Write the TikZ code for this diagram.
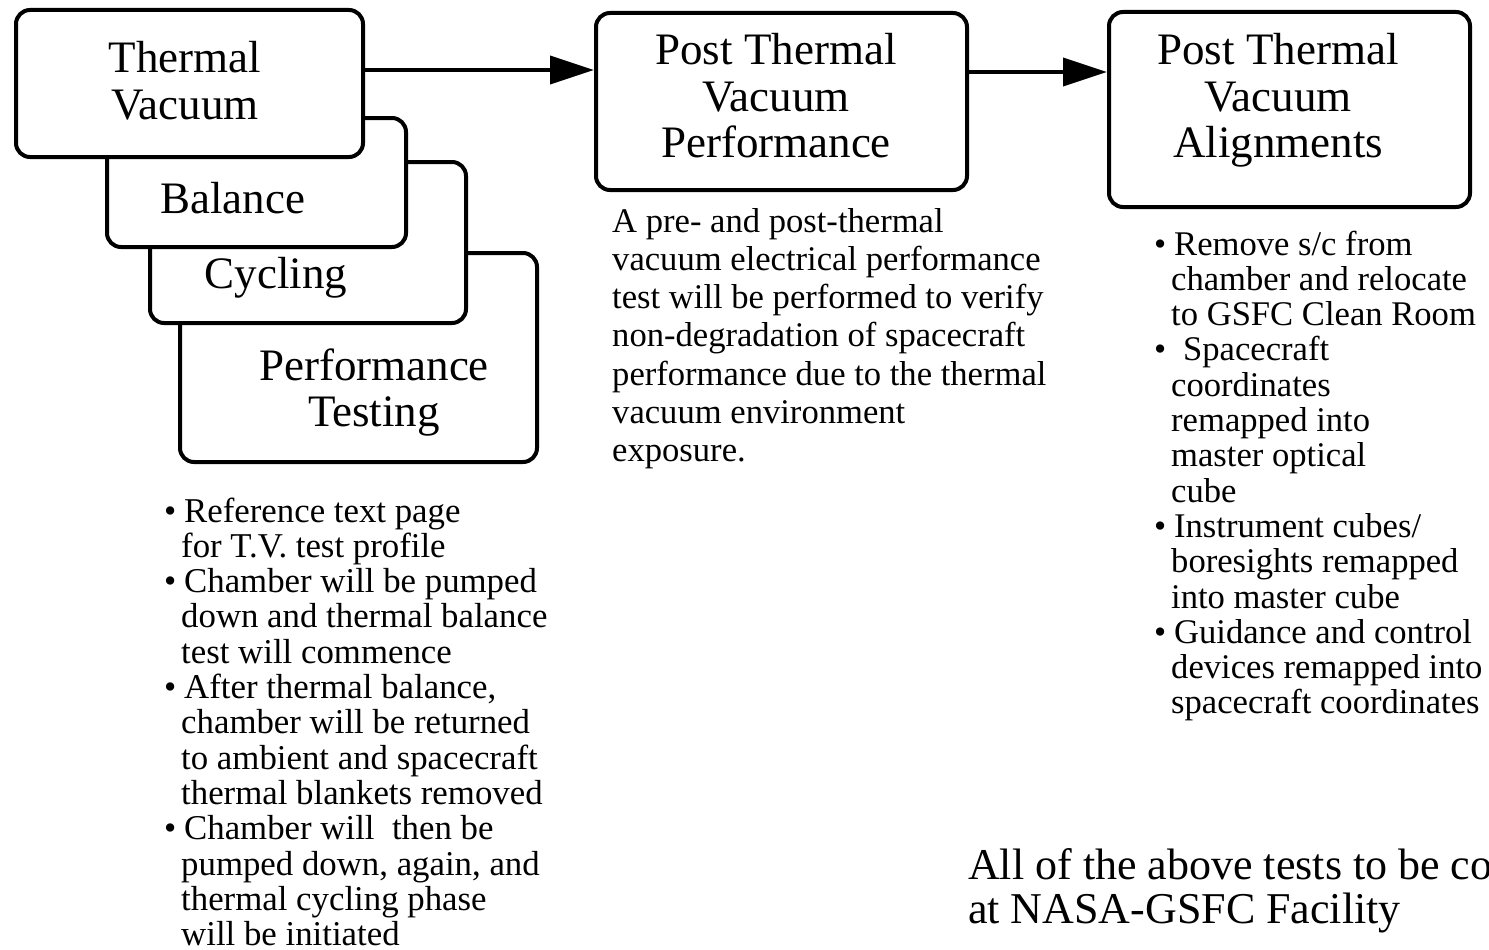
\documentclass[tikz,border=0pt]{standalone}
\usepackage{fontspec}
\setmainfont{Liberation Serif}
\usetikzlibrary{arrows.meta}
% bullet mark and continuation indent for the bullet lists
\newcommand\bulmark{\makebox[20pt][l]{•}}
\newcommand\contind{\hspace*{17pt}}
% centred box title, anchored at the baseline of its first line
\newcommand\boxtitle[1]{\parbox[t]{420pt}{\centering\fontsize{45}{46.5}\selectfont #1}}
% left-aligned text block, anchored at the baseline of its first line
\newcommand\textblock[3]{\parbox[t]{900pt}{\raggedright\fontsize{#1}{#2}\selectfont #3}}
\begin{document}
\begin{tikzpicture}[x=1pt,y=-1pt,
  box/.style={draw, line width=4pt, rounded corners=14pt, fill=white, inner sep=0pt},
  title/.style={anchor=base, inner sep=0pt},
  body/.style={anchor=base west, inner sep=0pt},
  conn/.style={line width=4pt, -{Triangle[length=44pt,width=28pt]}}]
\useasboundingbox (0,0) rectangle (1489,950);
\clip (0,0) rectangle (1489,950);
\fill[white] (0,0) rectangle (1489,950);

% stacked test phases, back to front
\node[box, minimum width=357pt, minimum height=209pt] (perf) at (358.5,357.5) {};
\node[box, minimum width=316pt, minimum height=161pt] (cyc) at (308,242.5) {};
\node[box, minimum width=299pt, minimum height=129pt] (bal) at (256.5,182.5) {};
\node[box, minimum width=347pt, minimum height=147pt] (tv) at (189.5,83.5) {};

\node[title] (perft) at (374,380) {\boxtitle{Performance\\Testing}};
\node[title] (cyct) at (276,288) {\boxtitle{Cycling}};
\node[title] (balt) at (232.5,213) {\boxtitle{Balance}};
\node[title] (tvt) at (185,73) {\boxtitle{Thermal\\Vacuum}};

% post-test boxes
\node[box, minimum width=371pt, minimum height=177pt] (ptp) at (781.5,101.5) {};
\node[title] (ptpt) at (776,65) {\boxtitle{Post Thermal\\Vacuum\\Performance}};
\node[box, minimum width=361pt, minimum height=195pt] (pta) at (1289.5,109.5) {};
\node[title] (ptat) at (1278,65) {\boxtitle{Post Thermal\\Vacuum\\Alignments}};

% flow arrows
\coordinate (row1) at (0,70);
\coordinate (row2) at (0,72);
\draw[conn] (tv.east |- row1) -- (ptp.west |- row1);
\draw[conn] (ptp.east |- row2) -- (pta.west |- row2);

% descriptions
\node[body] (tvnotes) at (164,522) {\textblock{34.8}{35.3}{%
\bulmark Reference text page\\
\contind for T.V. test profile\\
\bulmark Chamber will be pumped\\
\contind down and thermal balance\\
\contind test will commence\\
\bulmark After thermal balance,\\
\contind chamber will be returned\\
\contind to ambient and spacecraft\\
\contind thermal blankets removed\\
\bulmark Chamber will\ \ then be\\
\contind pumped down, again, and\\
\contind thermal cycling phase\\
\contind will be initiated}};

\node[body] (ptpnotes) at (612,232) {\textblock{34.6}{38.3}{%
A pre- and post-thermal\\
vacuum electrical performance\\
test will be performed to verify\\
non-degradation of spacecraft\\
performance due to the thermal\\
vacuum environment\\
exposure.}};

\node[body] (ptanotes) at (1154,255) {\textblock{34.6}{35.3}{%
\bulmark Remove s/c from\\
\contind chamber and relocate\\
\contind to GSFC Clean Room\\
\bulmark\hspace{9pt}Spacecraft\\
\contind coordinates\\
\contind remapped into\\
\contind master optical\\
\contind cube\\
\bulmark Instrument cubes/\\
\contind boresights remapped\\
\contind into master cube\\
\bulmark Guidance and control\\
\contind devices remapped into\\
\contind spacecraft coordinates}};

\node[body] (facility) at (968,879) {\textblock{44}{44}{%
All of the above tests to be conducted\\
at NASA-GSFC Facility}};
\end{tikzpicture}
\end{document}
